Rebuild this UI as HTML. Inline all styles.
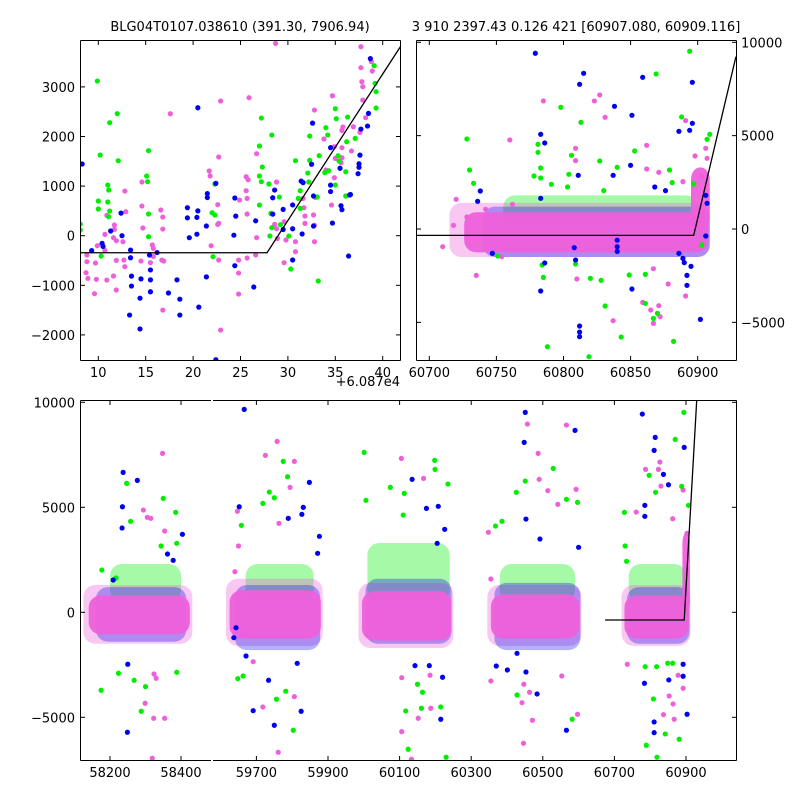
<!DOCTYPE html>
<html><head><meta charset="utf-8"><style>
html,body{margin:0;padding:0;background:#fff;}
svg{display:block;font-family:"DejaVu Sans","Liberation Sans",sans-serif;}
</style></head><body>
<svg id="c" width="800" height="800" xmlns="http://www.w3.org/2000/svg">
<defs>
<clipPath id="cTL"><rect x="80" y="40" width="320" height="320"/></clipPath>
<clipPath id="cTR"><rect x="416" y="40" width="320" height="320"/></clipPath>
<clipPath id="cBL"><rect x="80" y="400" width="131" height="360"/></clipPath>
<clipPath id="cBR"><rect x="213" y="400" width="523" height="360"/></clipPath>
</defs>
<text x="240" y="31" font-size="13" text-anchor="middle">BLG04T0107.038610 (391.30, 7906.94)</text>
<text x="576" y="31" font-size="13" text-anchor="middle">3 910 2397.43 0.126 421 [60907.080, 60909.116]</text>
<text x="400" y="386" font-size="13" text-anchor="end">+6.087e4</text>
</svg>
<script>
// ---------- data ----------
const TL_blue=[[8.3,1445],[20.5,2580],[22.4,1055],[21.5,850],[21.5,770],[19.4,565],[20.5,500],[19.4,360],[20.4,370],[21.4,195],[20.4,30],[19.6,-40],[24.4,760],[24.5,395],[24.3,10],[26.6,300],[24.4,-605],[26.4,-1035],[21.4,-830],[20.6,-1440],[18.3,-890],[18.6,-1280],[18.6,-1600],[17.4,-1155],[15.5,-1130],[15.5,-690],[14.5,-870],[14.4,-1260],[13.3,-1600],[14.4,-1880],[22.4,-2500],[13.5,-815],[13.5,-1015],[13.4,-445],[13.4,-290],[12.5,0],[12.4,455],[11.3,95],[10.4,-155],[10.5,-215],[9.3,-300],[15.5,-890],[16.2,-340],[15.4,-390],[28.4,765],[28.6,920],[28.4,435],[29.5,530],[29.5,125],[30.5,620],[30.5,140],[31.5,35],[31.4,1100],[31.6,1070],[32.5,1440],[32.6,2270],[32.7,800],[32.7,195],[34.5,1775],[34.5,1020],[34.5,890],[34.7,255],[35.5,1360],[35.6,605],[35.7,525],[36.5,820],[36.6,830],[37.6,1625],[37.5,1450],[37.5,1380],[37.4,1250],[38.5,2466],[38.4,2210],[37.7,2150],[38.7,3570],[36.4,-410],[30.5,-490]];
const TL_green=[[9.9,3118],[12.0,2460],[11.2,2278],[10.2,1626],[12.1,1512],[15.3,1714],[15.1,1203],[15.2,1089],[11.0,1021],[11.1,921],[10.0,699],[11.0,679],[10.0,538],[11.2,497],[11.1,383],[8.1,235],[8.1,114],[15.3,437],[15.3,-20],[10.3,-410],[22.3,1042],[22.0,464],[22.3,417],[22.1,-423],[27.2,2372],[28.3,2029],[27.0,1808],[27.3,1384],[27.0,1203],[27.2,1089],[28.0,1042],[27.0,618],[28.2,450],[28.1,-6],[28.3,161],[29.1,779],[29.2,222],[30.1,-7],[30.3,-672],[30.8,1512],[31.1,753],[31.3,907],[31.3,551],[32.3,2009],[32.3,1519],[32.1,1263],[32.2,1082],[33.3,1613],[33.1,780],[33.2,-914],[34.0,2177],[33.9,1270],[34.2,2029],[34.3,1310],[35.1,2359],[35.0,2560],[35.3,1613],[35.4,1505],[36.3,2392],[36.1,1290],[36.2,1895],[37.1,1962],[39.1,3427],[39.2,3071],[39.3,2903],[39.3,2574],[35.0,1021],[36.1,800]];
const TL_pink=[[28.7,3877],[37.7,3810],[37.7,3387],[37.8,3105],[37.9,3004],[38.9,3320],[38.8,3508],[25.9,2782],[22.9,2715],[17.6,2459],[34.7,2822],[32.8,2533],[35.8,2191],[33.8,1949],[34.9,1794],[35.0,1559],[35.7,1572],[22.7,1586],[21.7,1304],[21.8,1203],[26.7,1653],[25.6,1189],[25.8,1129],[25.6,907],[25.7,753],[25.7,437],[24.9,719],[22.6,625],[22.7,249],[22.6,228],[21.9,-202],[22.7,-491],[24.8,-491],[25.7,-450],[26.7,-40],[26.6,-390],[24.8,-753],[24.8,-1176],[22.9,-1902],[16.8,-1499],[16.6,518],[16.8,376],[16.8,134],[14.6,1082],[14.6,598],[14.7,155],[12.8,900],[12.9,484],[11.7,215],[11.7,128],[10.7,27],[11.6,-40],[11.9,-101],[12.6,-121],[10.9,410],[10.7,-296],[9.9,-202],[8.8,-390],[8.8,-524],[8.7,-746],[8.9,-860],[9.7,-551],[9.8,-880],[9.6,-1169],[10.9,-894],[11.6,-813],[11.9,-1095],[11.9,-497],[12.7,-491],[12.8,-625],[14.5,-511],[15.5,-544],[15.8,-417],[15.7,-188],[15.8,-255],[16.7,-491],[16.9,-511],[28.6,228],[28.8,141],[28.9,-54],[28.8,1082],[29.6,282],[29.8,-87],[29.6,-544],[30.8,-323],[30.8,-121],[31.8,396],[31.8,249],[32.7,417],[32.8,208],[32.8,-121],[31.7,565],[31.6,753],[32.9,773],[34.0,1324],[34.9,1169],[34.6,618],[35.7,1774],[35.6,1472],[36.7,1707],[37.9,2735],[37.6,2083],[36.9,2197],[35.7,2123],[38.2,2379]];
const TL_line_x=[8.0,27.8,42.2];
const TL_line_y=[-343,-343,3910];

const TR_blue=[[60779,9412],[60815,8340],[60812,7751],[60859,8126],[60896,7858],[60838,6572],[60851,6090],[60783,5072],[60786,4608],[60886,5233],[60894,5286],[60896,5662],[60850,3411],[60837,2875],[60811,2875],[60738,2036],[60736,1482],[60783,1643],[60868,2250],[60876,2054],[60906,1804],[60907,1375],[60786,-1822],[60783,-3322],[60851,-3215],[60892,-2483],[60892,-3018],[60902,-4840],[60812,-5197],[60812,-5519],[60812,-5769],[60747,-1304],[60840,-947],[60886,-1304],[60889,-1572],[60906,-375],[60809,-1661],[60840,-1200],[60840,-600],[60890,-1800],[60895,-2000],[60808,-1000]];
const TR_green=[[60894,9519],[60869,8305],[60798,6519],[60813,5715],[60728,4822],[60888,6001],[60909,5072],[60907,4804],[60781,4536],[60781,4108],[60853,4179],[60806,3947],[60827,3643],[60730,3161],[60783,3268],[60840,3304],[60733,2447],[60778,2840],[60783,2733],[60791,2393],[60804,2929],[60803,2250],[60879,3161],[60881,2483],[60897,2411],[60830,2054],[60751,-1447],[60784,-1929],[60785,-2590],[60820,-2643],[60828,-2750],[60849,-2465],[60861,-2429],[60831,-4126],[60861,-3983],[60870,-4519],[60867,-4787],[60843,-5787],[60882,-6019],[60788,-6305],[60819,-6841],[60903,-857],[60809,-1875]];
const TR_pink=[[60785,6858],[60823,6858],[60827,7180],[60831,5983],[60760,4769],[60809,4322],[60809,3661],[60862,4483],[60891,5805],[60898,3911],[60906,4322],[60907,3786],[60862,3215],[60871,3036],[60889,2536],[60720,1590],[60718,196],[60710,-947],[60735,-2483],[60810,-2679],[60878,-2947],[60891,-3590],[60859,-3929],[60871,-4108],[60865,-4340],[60872,-4697],[60867,-5054],[60837,-4911],[60867,-2125],[60754,-1482],[60742,1054],[60728,643],[60762,1322],[60903,2804]];
const TR_line_x=[60688,60897,60928.5];
const TR_line_y=[-340,-340,9233];
// dense clusters: [x0,x1,ylo,yhi]
const TR_green_bands=[[60755,60900,200,1800]];
const TR_blue_bands=[[60740,60909,-1500,1200]];
const TR_pink_bands=[[60726,60908,-1250,900],[60895,60909,0,3300]];
const TR_pink_halo=[[60715,60909,-1500,1400]];

const B_blue=[[58237,6664],[58277,6283],[58235,5027],[58234,4013],[58404,3713],[58249,-5712],[58250,-2475],[58362,2775],[58378,2475],[58209,1537],[59666,9663],[59652,5027],[59848,6188],[59831,4998],[59827,4665],[59789,4474],[59876,3618],[59871,2808],[59691,-4684],[59750,-5379],[59825,-4712],[59734,-3237],[59671,-2080],[59814,-2428],[59637,-1209],[59643,-733],[60451,9520],[60448,8092],[60590,8663],[60778,9439],[60814,8330],[60811,7711],[60895,7854],[60837,6569],[60851,6074],[60785,5093],[60785,4570],[60135,6331],[60208,5046],[60175,4950],[60205,3284],[60226,3951],[60453,4441],[60492,3489],[60600,3094],[60370,-2556],[60401,-2747],[60453,-2842],[60484,-3889],[60428,-1952],[60215,-5093],[60220,-3094],[60566,-5617],[60784,-3380],[60811,-5222],[60811,-5731],[60852,-3222],[60892,-3046],[60892,-2475],[60903,-4855],[60143,-2541],[60183,-2541]];
const B_green=[[58247,6140],[58350,5426],[58385,4760],[58258,4332],[58177,2013],[58217,1633],[58344,3156],[58388,3284],[58175,-3713],[58224,-2904],[58288,-4712],[58300,-3541],[58388,-2856],[58268,-3237],[60001,7616],[59775,7187],[59787,6455],[59736,5726],[59718,5188],[59750,5455],[59658,4141],[60006,5331],[60074,5950],[59648,-3161],[59663,-3032],[59756,-4141],[59803,-5617],[59782,-3760],[60894,9520],[60870,8235],[60888,5998],[60907,5093],[60815,5712],[60797,6521],[60728,4760],[60730,3156],[60734,2428],[60529,6854],[60451,6250],[60426,5712],[60386,4332],[60368,4108],[60566,5379],[60597,5236],[60198,7235],[60199,6807],[60235,6107],[60113,5664],[60110,4631],[60150,-3427],[60164,-3808],[60117,-4698],[60161,-4570],[60215,-4508],[60124,-6521],[60230,-6902],[60428,-3937],[60582,-5093],[60789,-6331],[60842,-5793],[60881,-6045],[60809,-4127],[60819,-6902],[60786,-2589],[60818,-2589],[60849,-2427],[60863,-2427]];
const B_pink=[[58348,7568],[58294,4869],[58305,4522],[58354,3870],[58315,4474],[58299,-4332],[58323,-5046],[58354,-5046],[58324,-2937],[58330,-3141],[58319,-6950],[59758,8140],[59725,7473],[59806,7187],[59794,5950],[59647,4808],[59761,-6664],[59806,-4017],[59718,-4508],[59691,-2351],[59650,3156],[59640,1933],[59763,4236],[60457,8963],[60566,8916],[60487,7568],[60490,6331],[60105,7330],[60167,6378],[60593,5855],[60514,5791],[60542,5141],[60348,3808],[60355,1585],[60787,6807],[60823,6807],[60827,7154],[60830,6012],[60892,5822],[60761,4774],[60863,4456],[60903,3760],[60736,-2475],[60355,-3270],[60447,-3427],[60463,-3808],[60442,-4303],[60471,-5141],[60446,-6236],[60597,-4855],[60553,-3032],[60853,-3984],[60864,-4365],[60867,-5093],[60837,-4874],[60878,-2999],[60892,-3618],[60106,-3113],[60152,-5046],[60187,-4570],[60106,-5683],[60185,-2999],[60133,-6998]];
const B_line_x=[60674,60895,60930];
const B_line_y=[-366,-366,10110];
const B_green_bands=[[58200,58400,500,2300],[59670,59860,500,2300],[60010,60240,500,3300],[60380,60590,500,2300],[60740,60900,500,2300]];
const B_blue_bands=[[58160,58415,-1400,1200],[59640,59878,-1800,1300],[60005,60245,-1500,1600],[60365,60605,-1800,1400],[60735,60910,-1500,1200]];
const B_pink_bands=[[58140,58425,-1050,800],[59625,59880,-1250,1050],[59995,60245,-1350,1000],[60355,60602,-1250,850],[60728,60908,-1250,800],[60890,60911,0,3800]];
const B_pink_halo=[[58125,58432,-1500,1300],[59615,59885,-1600,1600],[59985,60250,-1700,1400],[60345,60608,-1600,1300],[60720,60912,-1600,1300]];

// ---------- scales ----------
const TLx=x=>98.3+(x-10)*9.48, TLy=y=>235.7-y*0.0496;
const TRx=x=>429.3+(x-60700)*1.342, TRy=y=>229-y*0.01867;
const Bx=x=>x<59000?110+(x-58200)*0.355:686+(x-60900)*0.358;
const By=y=>612.3-y*0.021;
const C={blue:'#0000f0',green:'#00ee00',pink:'#ee60da'};
const svg=document.getElementById('c');
const NS='http://www.w3.org/2000/svg';
function mk(tag,parent){const e=document.createElementNS(NS,tag);parent.appendChild(e);return e;}

function panel(name,clip){const g=mk('g',svg);g.setAttribute('clip-path','url(#'+clip+')');


return g;}
function bands(g,arr,sx,sy,color,op,name){arr.forEach(b=>{const r=mk('rect',g);
const x0=sx(b[0]),x1=sx(b[1]),y0=sy(b[3]),y1=sy(b[2]);
r.setAttribute('x',x0);r.setAttribute('y',y0);r.setAttribute('width',x1-x0);r.setAttribute('height',y1-y0);
r.setAttribute('rx',Math.min(12,(y1-y0)/2));r.setAttribute('fill',color);r.setAttribute('fill-opacity',op);

});}
function pts(g,arr,sx,sy,color,name){arr.forEach(p=>{const c=mk('circle',g);
c.setAttribute('cx',sx(p[0]));c.setAttribute('cy',sy(p[1]));c.setAttribute('r',2.6);c.setAttribute('fill',color);

});}
function line(g,xs,ys,sx,sy,name){const l=mk('polyline',g);
l.setAttribute('points',xs.map((x,i)=>sx(x)+','+sy(ys[i])).join(' '));
l.setAttribute('fill','none');l.setAttribute('stroke','#000');l.setAttribute('stroke-width',1.3);

}
function txt(s,x,y,anchor){const t=mk('text',svg);t.textContent=s;t.setAttribute('x',x);t.setAttribute('y',y);
t.setAttribute('font-size',13);t.setAttribute('text-anchor',anchor);

}
function seg(x1,y1,x2,y2){const l=mk('line',svg);l.setAttribute('x1',x1);l.setAttribute('y1',y1);l.setAttribute('x2',x2);l.setAttribute('y2',y2);
l.setAttribute('stroke','#000');l.setAttribute('stroke-width',1);

}

// top-left
let g=panel('top-left-plot','cTL');
pts(g,TL_pink,TLx,TLy,C.pink,'pink-point');
pts(g,TL_green,TLx,TLy,C.green,'green-point');
pts(g,TL_blue,TLx,TLy,C.blue,'blue-point');
line(g,TL_line_x,TL_line_y,TLx,TLy,'fit-line');
// top-right
g=panel('top-right-plot','cTR');
bands(g,TR_green_bands,TRx,TRy,C.green,0.35,'green-cluster');
bands(g,TR_pink_halo,TRx,TRy,C.pink,0.35,'pink-cluster-halo');
bands(g,TR_blue_bands,TRx,TRy,C.blue,0.3,'blue-cluster');
bands(g,TR_pink_bands,TRx,TRy,C.pink,0.95,'pink-cluster');
pts(g,TR_pink,TRx,TRy,C.pink,'pink-point');
pts(g,TR_green,TRx,TRy,C.green,'green-point');
pts(g,TR_blue,TRx,TRy,C.blue,'blue-point');
line(g,TR_line_x,TR_line_y,TRx,TRy,'fit-line');
// bottom (two segments)
['cBL','cBR'].forEach(cl=>{const gg=panel('bottom-plot',cl);
bands(gg,B_green_bands,Bx,By,C.green,0.35,'green-cluster');
bands(gg,B_pink_halo,Bx,By,C.pink,0.35,'pink-cluster-halo');
bands(gg,B_blue_bands,Bx,By,C.blue,0.3,'blue-cluster');
bands(gg,B_pink_bands,Bx,By,C.pink,0.95,'pink-cluster');
pts(gg,B_pink,Bx,By,C.pink,'pink-point');
pts(gg,B_green,Bx,By,C.green,'green-point');
pts(gg,B_blue,Bx,By,C.blue,'blue-point');
line(gg,B_line_x,B_line_y,Bx,By,'fit-line');});

// frames
function frame(x0,y0,x1,y1){seg(x0,y0,x1,y0);seg(x0,y1,x1,y1);seg(x0,y0,x0,y1);seg(x1,y0,x1,y1);}
frame(80.5,40.5,400.5,360.5);frame(416.5,40.5,736.5,360.5);
seg(80.5,400.5,211,400.5);seg(80.5,760.5,211,760.5);seg(80.5,400.5,80.5,760.5);
seg(213,400.5,736.5,400.5);seg(213,760.5,736.5,760.5);seg(736.5,400.5,736.5,760.5);

// ticks & labels
const TL_xt=[10,15,20,25,30,35,40], TL_yt=[3000,2000,1000,0,-1000,-2000];
TL_xt.forEach(v=>{const x=TLx(v);seg(x,360,x,356);seg(x,41,x,45);txt(String(v),x,377,'middle');});
TL_yt.forEach(v=>{const y=TLy(v);seg(81,y,85,y);seg(400,y,396,y);txt(String(v).replace('-','\u2212'),75,y+5,'end');});
const TR_xt=[60700,60750,60800,60850,60900], TR_yt=[10000,5000,0,-5000];
TR_xt.forEach(v=>{const x=TRx(v);seg(x,360,x,356);seg(x,41,x,45);txt(String(v),x,377,'middle');});
TR_yt.forEach(v=>{const y=TRy(v);seg(417,y,421,y);seg(736,y,732,y);txt(String(v).replace('-','\u2212'),741,y+5,'start');});
const B_xt=[58200,58400,59700,59900,60100,60300,60500,60700,60900], B_yt=[10000,5000,0,-5000];
B_xt.forEach(v=>{const x=Bx(v);seg(x,760,x,756);seg(x,401,x,405);txt(String(v),x,777,'middle');});
B_yt.forEach(v=>{const y=By(v);seg(81,y,85,y);seg(736,y,732,y);txt(String(v).replace('-','\u2212'),75,y+5,'end');});
</script>
</body></html>
